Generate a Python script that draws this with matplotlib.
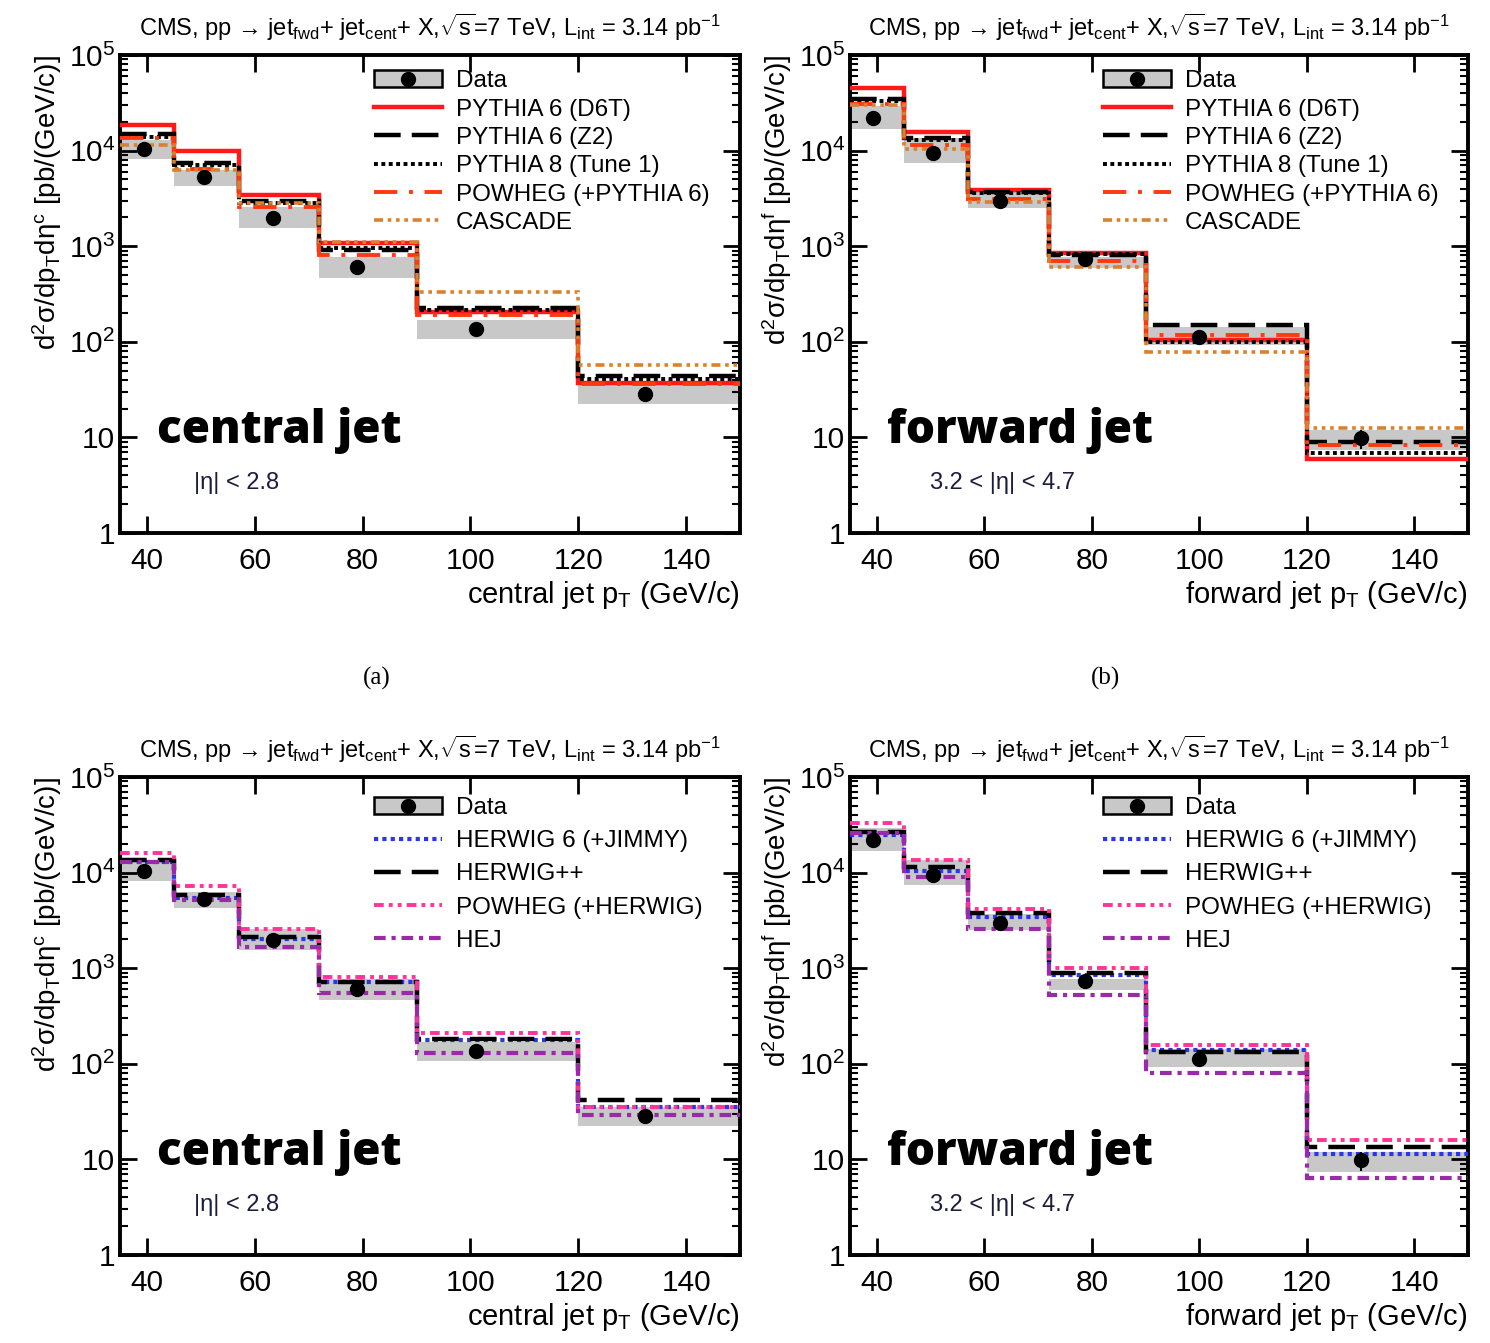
import matplotlib
matplotlib.use("Agg")
from matplotlib import pyplot as plt
from matplotlib.patches import Patch
from matplotlib.lines import Line2D
from matplotlib.ticker import LogLocator, NullFormatter

plt.rcParams["font.family"] = ["Liberation Sans", "DejaVu Sans"]
plt.rcParams["mathtext.fontset"] = "custom"
plt.rcParams["mathtext.rm"] = "Liberation Sans"
plt.rcParams["mathtext.it"] = "Liberation Sans:italic"
plt.rcParams["mathtext.bf"] = "Liberation Sans:bold"

# bin edges in pT (GeV/c)
edges = [35, 45, 57, 72, 90, 120, 150]

# measured data, central jet
cent_x = [39.5, 50.5, 63.3, 78.9, 101.0, 132.3]
cent_y = [1.05e4, 5.3e3, 1.95e3, 600, 135, 28.5]
cent_lo = [8.2e3, 4.3e3, 1.55e3, 470, 108, 22.5]
cent_hi = [1.3e4, 6.3e3, 2.55e3, 770, 170, 35]

# measured data, forward jet
fwd_x = [39.3, 50.5, 63.0, 78.8, 99.9, 130.0]
fwd_y = [2.2e4, 9.4e3, 3.0e3, 730, 112, 9.8]
fwd_err = [0, 0, 0, 0, 8, 2.2]
fwd_lo = [1.7e4, 7.4e3, 2.5e3, 590, 92, 7.3]
fwd_hi = [2.9e4, 1.35e4, 3.7e3, 780, 142, 12]

# PYTHIA-type predictions
cent_d6t = [1.85e4, 1.0e4, 3.4e3, 1.08e3, 205, 37]
cent_z2 = [1.5e4, 7.4e3, 3.0e3, 910, 225, 44]
cent_p8 = [1.4e4, 7.0e3, 2.8e3, 950, 215, 41]
cent_pow_py = [1.35e4, 6.4e3, 2.6e3, 800, 190, 36]
cent_cascade = [1.15e4, 6.2e3, 2.8e3, 1.1e3, 330, 57]

fwd_d6t = [4.5e4, 1.55e4, 3.9e3, 850, 105, 6.0]
fwd_z2 = [3.5e4, 1.35e4, 3.7e3, 810, 150, 9.0]
fwd_p8 = [3.3e4, 1.3e4, 3.6e3, 820, 100, 6.8]
fwd_pow_py = [3.1e4, 1.15e4, 3.1e3, 700, 118, 8.3]
fwd_cascade = [3.0e4, 1.05e4, 2.9e3, 605, 78, 12.5]

# HERWIG-type predictions
cent_hw6 = [1.29e4, 5.4e3, 2.0e3, 720, 178, 35]
cent_hwpp = [1.35e4, 5.8e3, 2.1e3, 720, 182, 42]
cent_pow_hw = [1.6e4, 7.2e3, 2.6e3, 810, 210, 35.5]
cent_hej = [1.3e4, 5.2e3, 1.66e3, 550, 130, 29]

fwd_hw6 = [2.47e4, 1.05e4, 3.45e3, 850, 139, 11.4]
fwd_hwpp = [2.65e4, 1.15e4, 3.8e3, 890, 133, 13.5]
fwd_pow_hw = [3.3e4, 1.35e4, 4.2e3, 1.0e3, 158, 16]
fwd_hej = [2.6e4, 8.9e3, 2.6e3, 525, 80, 6.4]

pythia_labels = ["PYTHIA 6 (D6T)", "PYTHIA 6 (Z2)", "PYTHIA 8 (Tune 1)",
                 "POWHEG (+PYTHIA 6)", "CASCADE"]
herwig_labels = ["HERWIG 6 (+JIMMY)", "HERWIG++", "POWHEG (+HERWIG)", "HEJ"]

pythia_styles = [
    dict(color="#ff1a1a", lw=3.2, ls="-"),
    dict(color="black", lw=3.2, ls=(0, (6, 2.5))),
    dict(color="black", lw=2.8, ls=(0, (1, 0.9))),
    dict(color="#ff3a10", lw=2.8, ls=(0, (6, 3, 1, 3))),
    dict(color="#d9822e", lw=2.6, ls=(0, (2.5, 1.3, 1, 1.3, 1, 1.3, 1, 1.3))),
]
herwig_styles = [
    dict(color="#2a35ee", lw=3.0, ls=(0, (1, 1))),
    dict(color="black", lw=3.2, ls=(0, (6, 2.5))),
    dict(color="#ff3399", lw=2.8, ls=(0, (2.5, 1.3, 1, 1.3, 1, 1.3))),
    dict(color="#9b2aa8", lw=3.0, ls=(0, (2.8, 1.4, 1, 1.4))),
]

title = (r"CMS, pp → jet$_{\rm fwd}$+ jet$_{\rm cent}$+ X,"
         r"$\sqrt{\rm s}$=7 TeV, L$_{\rm int}$ = 3.14 pb$^{-1}$")


def panel(ax, xs, ys, lo, hi, yerr, models, labels, styles, kind, region,
          ylab, spacing, top):
    ax.stairs(hi, edges, baseline=lo, fill=True, color="#c8c8c8", lw=0, zorder=1)
    for vals, st in zip(models, styles):
        ax.stairs(vals, edges, baseline=None, zorder=3, **st)
    ax.errorbar(xs, ys, yerr=yerr, fmt="o", color="black", ms=10,
                elinewidth=1.5, capsize=0, zorder=5)

    ax.set_yscale("log")
    ax.set_xlim(35, 150)
    ax.set_ylim(1, 1e5)
    ax.set_xticks([40, 60, 80, 100, 120, 140])
    ax.set_yticks([1, 10, 100, 1e3, 1e4, 1e5],
                  ["1", "10", r"$10^{2}$", r"$10^{3}$", r"$10^{4}$", r"$10^{5}$"])
    ax.yaxis.set_minor_locator(LogLocator(base=10, subs=range(2, 10), numticks=20))
    ax.yaxis.set_minor_formatter(NullFormatter())
    ax.tick_params(which="both", direction="in", top=True, right=True,
                   labelsize=21.5)
    ax.tick_params(which="major", length=12, width=2)
    ax.tick_params(which="minor", length=6, width=1.5)
    ax.tick_params(axis="x", pad=10)
    for s in ax.spines.values():
        s.set_linewidth(2.8)

    ax.set_title(title, fontsize=17, pad=14)
    ax.set_xlabel(f"{kind} jet p$_{{\\rm T}}$ (GeV/c)", fontsize=21,
                  loc="right", labelpad=3)
    ax.set_ylabel(ylab, fontsize=20, loc="top", labelpad=3)

    ax.text(0.06, 0.215, f"{kind} jet", transform=ax.transAxes,
            fontsize=33, fontweight=800, family=["Open Sans", "DejaVu Sans"],
            va="center", ha="left")
    ax.text(0.12 if kind == "central" else 0.13, 0.105, region,
            transform=ax.transAxes, fontsize=17, color="#1c1c3c",
            va="center", ha="left")

    data_handle = (Patch(facecolor="#c8c8c8", edgecolor="black", lw=1.8),
                   Line2D([], [], marker="o", color="black", ms=10, ls=""))
    handles = [data_handle] + [Line2D([], [], **st) for st in styles]
    ax.legend(handles, ["Data"] + labels, loc="upper left",
              bbox_to_anchor=(0.41, top), frameon=False, fontsize=17.5,
              handlelength=2.8, handletextpad=0.55, labelspacing=spacing,
              borderpad=0, borderaxespad=0)


fig = plt.figure(figsize=(14.9, 13.43), dpi=100)
W, H = 1490, 1343
pos = {
    "tl": [120 / W, 1 - 533 / H, 620 / W, 478 / H],
    "tr": [850 / W, 1 - 533 / H, 618 / W, 478 / H],
    "bl": [120 / W, 1 - 1255 / H, 620 / W, 478 / H],
    "br": [850 / W, 1 - 1255 / H, 618 / W, 478 / H],
}
ylab_c = r"d$^{2}$σ/dp$_{\rm T}$dη$^{\rm c}$ [pb/(GeV/c)]"
ylab_f = r"d$^{2}$σ/dp$_{\rm T}$dη$^{\rm f}$ [pb/(GeV/c)]"
no_err = [0] * 6

ax = fig.add_axes(pos["tl"])
panel(ax, cent_x, cent_y, cent_lo, cent_hi, no_err,
      [cent_d6t, cent_z2, cent_p8, cent_pow_py, cent_cascade],
      pythia_labels, pythia_styles, "central", "|η| < 2.8", ylab_c, 0.26, 0.968)

ax = fig.add_axes(pos["tr"])
panel(ax, fwd_x, fwd_y, fwd_lo, fwd_hi, fwd_err,
      [fwd_d6t, fwd_z2, fwd_p8, fwd_pow_py, fwd_cascade],
      pythia_labels, pythia_styles, "forward", "3.2 < |η| < 4.7", ylab_f, 0.26, 0.968)

ax = fig.add_axes(pos["bl"])
panel(ax, cent_x, cent_y, cent_lo, cent_hi, no_err,
      [cent_hw6, cent_hwpp, cent_pow_hw, cent_hej],
      herwig_labels, herwig_styles, "central", "|η| < 2.8", ylab_c, 0.46, 0.958)

ax = fig.add_axes(pos["br"])
panel(ax, fwd_x, fwd_y, fwd_lo, fwd_hi, fwd_err,
      [fwd_hw6, fwd_hwpp, fwd_pow_hw, fwd_hej],
      herwig_labels, herwig_styles, "forward", "3.2 < |η| < 4.7", ylab_f, 0.46, 0.958)

fig.text(377 / W, 1 - 678 / H, "(a)", family="Liberation Serif", fontsize=18,
         ha="center", va="center")
fig.text(1106 / W, 1 - 678 / H, "(b)", family="Liberation Serif", fontsize=18,
         ha="center", va="center")

fig.savefig("out.png", dpi=100)
